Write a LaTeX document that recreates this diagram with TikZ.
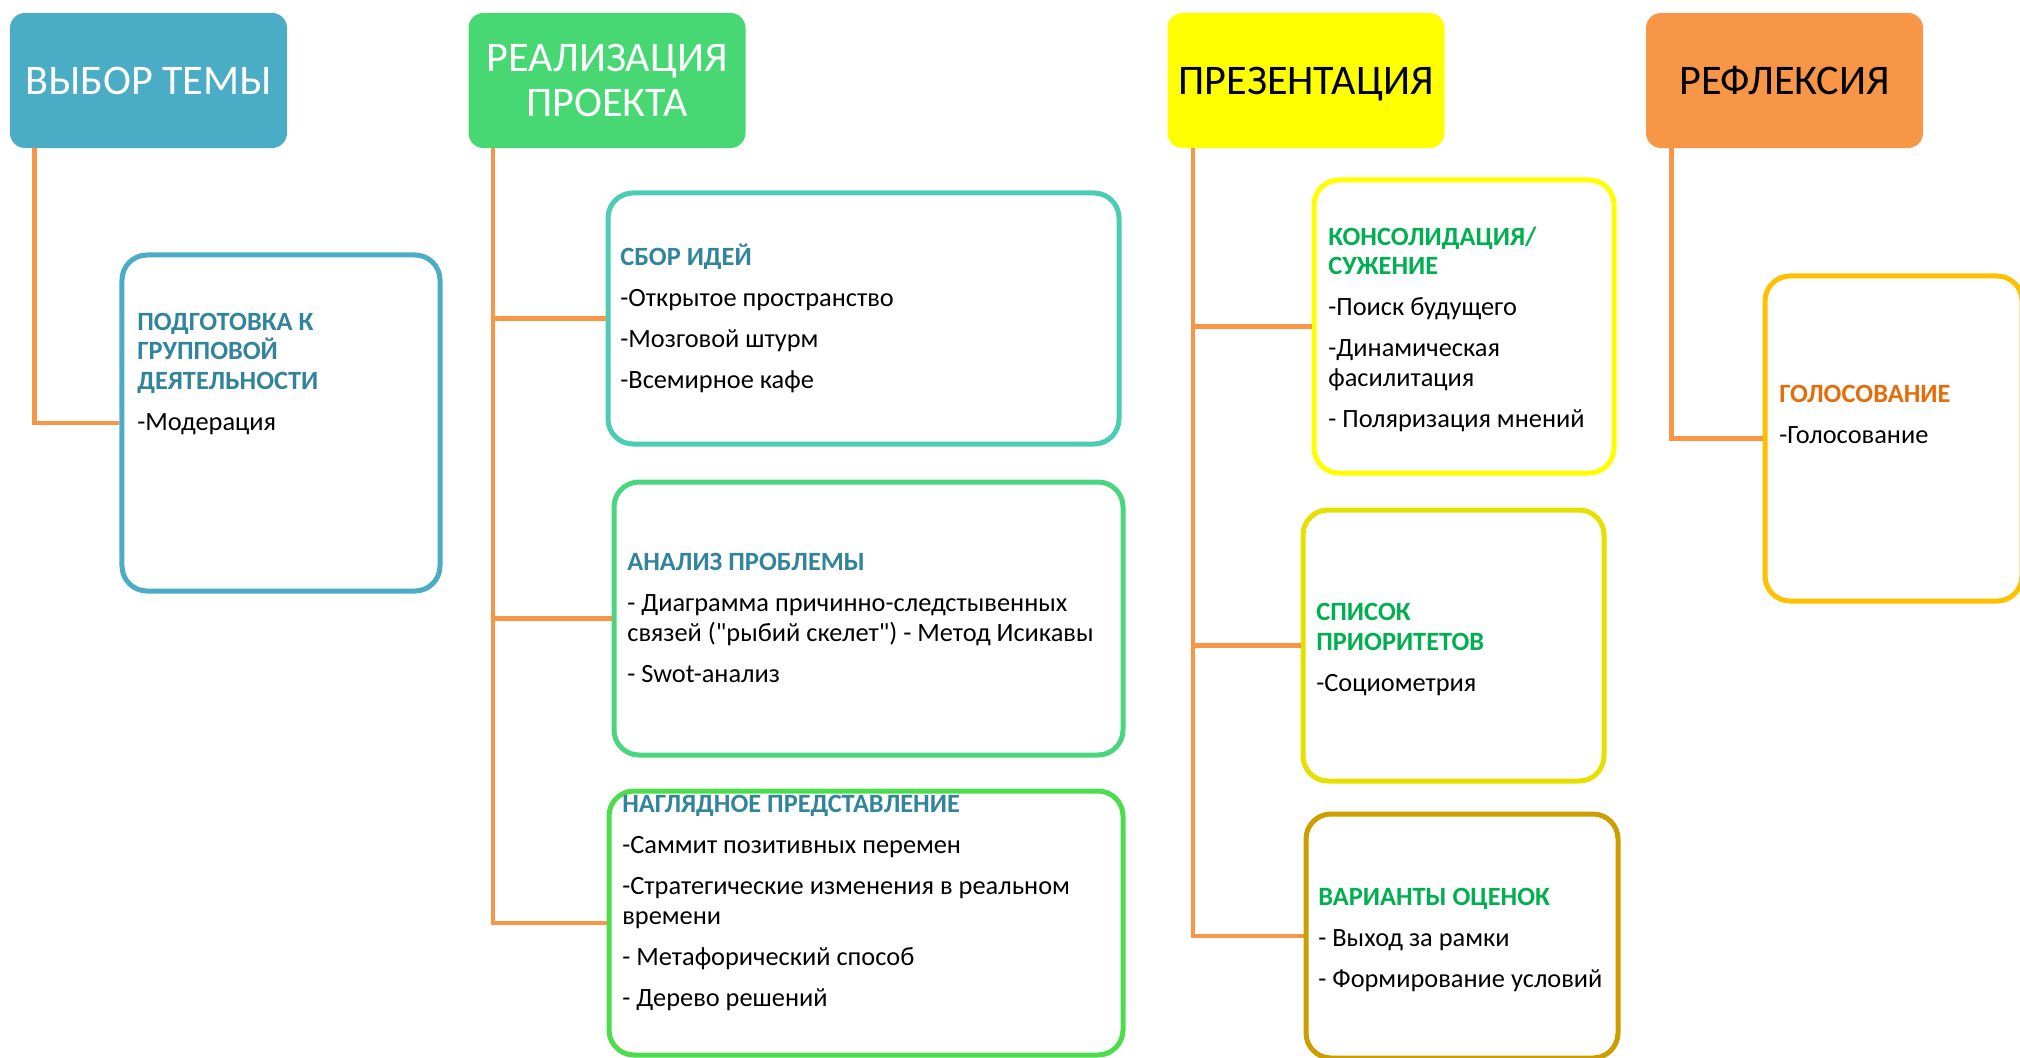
\documentclass[tikz,border=0pt]{standalone}
\usepackage{fontspec}
\setmainfont{Carlito}[Ligatures=TeXOff]
\usepackage{tikz}
\definecolor{stageblue}{HTML}{4BACC6}
\definecolor{stagegreen}{HTML}{47D873}
\definecolor{stageyellow}{HTML}{FFFF00}
\definecolor{stageorange}{HTML}{F79646}
\definecolor{ideasline}{RGB}{75,205,180}
\definecolor{analysisline}{RGB}{74,214,128}
\definecolor{visualline}{RGB}{76,221,76}
\definecolor{priorline}{RGB}{229,224,0}
\definecolor{evalsline}{RGB}{204,158,0}
\definecolor{voteline}{RGB}{255,192,0}
\definecolor{headteal}{HTML}{31849B}
\definecolor{headgreen}{HTML}{00B050}
\definecolor{headorange}{HTML}{E46C0A}
\tikzset{stage/.style={rounded corners=3mm, minimum width=55.4mm, minimum height=27mm, align=center, font=\fontsize{24}{26}\selectfont}}
\tikzset{method/.style={draw=#1, line width=1mm, rounded corners=5mm, fill=white}}
\tikzset{link/.style={draw=stageorange, line width=0.9mm}}
\tikzset{items/.style={anchor=base west, align=left, inner sep=0pt, font=\fontsize{15}{16.8}\selectfont}}
\newcommand{\headtext}[2]{{\bfseries\color{#1}#2}}

\begin{document}
\begin{tikzpicture}[x=0.2mm, y=-0.2mm]
            \clip (0, 0) rectangle (2020, 1058);
            % stages
            \node[stage, fill=stageblue, text=white] (choice) at (148.5, 80.5) {ВЫБОР ТЕМЫ};
            \node[stage, fill=stagegreen, text=white] (impl) at (607, 80.5) {РЕАЛИЗАЦИЯ\\ПРОЕКТА};
            \node[stage, fill=stageyellow, text depth=0pt] (pres) at (1306, 80.5) {ПРЕЗЕНТАЦИЯ};
            \node[stage, fill=stageorange] (refl) at (1784.5, 80.5) {РЕФЛЕКСИЯ};
            % method boxes
            \node[method=stageblue, minimum width=63.6mm, minimum height=67.2mm] (prep) at (281, 423) {};
            \node[method=ideasline, minimum width=102.2mm, minimum height=50.2mm] (ideas) at (863.5, 318.5) {};
            \node[method=analysisline, minimum width=101.8mm, minimum height=54.6mm] (analysis) at (868.5, 618.5) {};
            \node[method=visualline, minimum width=102.8mm, minimum height=52.8mm] (visual) at (866, 923) {};
            \node[method=stageyellow, minimum width=60mm, minimum height=58.6mm] (consol) at (1464, 326.5) {};
            \node[method=priorline, minimum width=60.2mm, minimum height=54.2mm] (prior) at (1453.5, 645.5) {};
            \node[method=evalsline, minimum width=62.4mm, minimum height=48.8mm] (evals) at (1462, 936) {};
            \node[method=voteline, minimum width=51.4mm, minimum height=65mm] (vote) at (1893.5, 438.5) {};
            % texts (placed by the baseline of their last line)
            \node[items] (prep-txt) at (137, 430) {\headtext{headteal}{ПОДГОТОВКА К}\\\headtext{headteal}{ГРУППОВОЙ}\\\headtext{headteal}{ДЕЯТЕЛЬНОСТИ}\\[6.5pt]-Модерация};
            \node[items] (ideas-txt) at (620, 388) {\headtext{headteal}{СБОР ИДЕЙ}\\[6.5pt]-Открытое пространство\\[6.5pt]-Мозговой штурм\\[6.5pt]-Всемирное кафе};
            \node[items] (analysis-txt) at (627, 682) {\headtext{headteal}{АНАЛИЗ ПРОБЛЕМЫ}\\[6.5pt]- Диаграмма причинно-следстывенных\\связей ("рыбий скелет") - Метод Исикавы\\[6.5pt]- Swot-анализ};
            \node[items] (visual-txt) at (622, 1006) {\headtext{headteal}{НАГЛЯДНОЕ ПРЕДСТАВЛЕНИЕ}\\[6.5pt]-Саммит позитивных перемен\\[6.5pt]-Стратегические изменения в реальном\\времени\\[6.5pt]- Метафорический способ\\[6.5pt]- Дерево решений};
            \node[items] (consol-txt) at (1328, 427) {\headtext{headgreen}{КОНСОЛИДАЦИЯ/}\\\headtext{headgreen}{СУЖЕНИЕ}\\[6.5pt]-Поиск будущего\\[6.5pt]-Динамическая\\фасилитация\\[6.5pt]- Поляризация мнений};
            \node[items] (prior-txt) at (1316, 691) {\headtext{headgreen}{СПИСОК}\\\headtext{headgreen}{ПРИОРИТЕТОВ}\\[6.5pt]-Социометрия};
            \node[items] (evals-txt) at (1318, 987) {\headtext{headgreen}{ВАРИАНТЫ ОЦЕНОК}\\[6.5pt]- Выход за рамки\\[6.5pt]- Формирование условий};
            \node[items] (vote-txt) at (1779, 443) {\headtext{headorange}{ГОЛОСОВАНИЕ}\\[6.5pt]-Голосование};
            % connectors
            \draw[link] ([xshift=5mm]choice.south west) |- (prep.west);
            \draw[link] ([xshift=5mm]impl.south west) |- (ideas.west);
            \draw[link] ([xshift=5mm]impl.south west) |- (analysis.west);
            \draw[link] ([xshift=5mm]impl.south west) |- (visual.west);
            \draw[link] ([xshift=5.2mm]pres.south west) |- (consol.west);
            \draw[link] ([xshift=5.2mm]pres.south west) |- (prior.west);
            \draw[link] ([xshift=5.2mm]pres.south west) |- (evals.west);
            \draw[link] ([xshift=5.2mm]refl.south west) |- (vote.west);
        \end{tikzpicture}
\end{document}
